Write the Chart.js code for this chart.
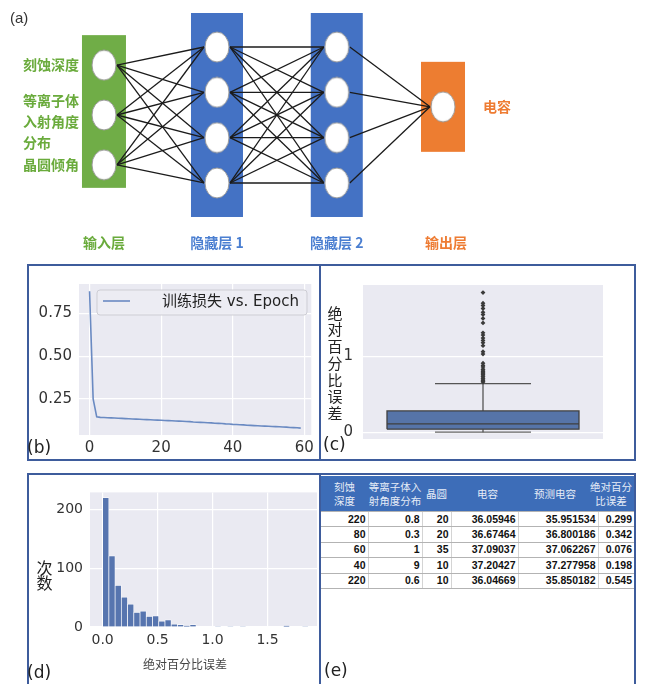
<!DOCTYPE html>
<html>
<head>
<meta charset="utf-8">
<script src="https://cdn.jsdelivr.net/npm/chart.js@4.4.0/dist/chart.umd.min.js"></script>
<style>
  body { margin: 0; background: #fff; }
  #page { position: relative; width: 654px; height: 684px; overflow: hidden; background: #fff; }
  .panel { position: absolute; box-sizing: border-box; border: 2px solid #3e5c9c; }
  canvas { position: absolute; display: block; }
  .tag { position: absolute; font: 17px "DejaVu Sans", sans-serif; line-height: 17px; color: #222; white-space: nowrap; }
  #resTable { position: absolute; left: 321px; top: 476px; width: 313px; border-collapse: collapse; table-layout: fixed; }
  #resTable th { background: #3d6db8; color: #e6ecf7; font: 10.5px/14px "Noto Sans CJK SC", sans-serif; height: 35px; padding: 0; text-align: center; white-space: pre; vertical-align: middle; }
  #resTable th span { display: inline-block; }
  #resTable tbody tr { height: 15.4px; }
  #resTable td { padding: 0 2px 0 0; text-align: right; font: bold 10.5px/13px "Liberation Sans", Arial, sans-serif; color: #111; border-top: 1px solid #b3b3b3; border-bottom: 1px solid #b3b3b3; border-left: 1px solid #d4d4d4; white-space: nowrap; }
  #resTable td:first-child { border-left: none; }
</style>
</head>
<body>
<div id="page">
  <canvas id="netChart" width="654" height="260" style="left:0;top:0"></canvas>
  <span class="tag" style="left:10px;top:10px;font:15px 'Liberation Sans',sans-serif;line-height:15px;color:#333">(a)</span>

  <div class="panel" style="left:27px;top:264px;width:294px;height:197px"></div>
  <div class="panel" style="left:319px;top:264px;width:317px;height:197px"></div>
  <div class="panel" style="left:27px;top:473px;width:294px;height:220px"></div>
  <div class="panel" style="left:319px;top:473px;width:317px;height:220px"></div>

  <canvas id="lossChart" width="289" height="192" style="left:29px;top:266px"></canvas>
  <canvas id="boxChart" width="312" height="192" style="left:322px;top:266px"></canvas>
  <canvas id="histChart" width="289" height="207" style="left:29px;top:477px"></canvas>
  <table id="resTable"><colgroup></colgroup><thead><tr></tr></thead><tbody></tbody></table>

  <span class="tag" style="left:27px;top:439px">(b)</span>
  <span class="tag" style="left:323px;top:436px">(c)</span>
  <span class="tag" style="left:27px;top:664px">(d)</span>
  <span class="tag" style="left:324px;top:662px">(e)</span>
</div>

<script>
// ---------------- data ----------------
// (a) network structure
const inputFeatures = ['刻蚀深度', '等离子体入射角度分布', '晶圆倾角'];
const outputTargets = ['电容'];
const layerNames = ['输入层', '隐藏层 1', '隐藏层 2', '输出层'];
const layerSizes = [3, 4, 4, 1];

// (b) training loss per epoch
const trainLoss = [
  0.880, 0.250, 0.145, 0.142, 0.141, 0.140, 0.139, 0.138, 0.137, 0.136,
  0.135, 0.134, 0.133, 0.132, 0.131, 0.130, 0.129, 0.128, 0.127, 0.126,
  0.125, 0.124, 0.123, 0.122, 0.121, 0.120, 0.119, 0.118, 0.117, 0.115,
  0.114, 0.113, 0.112, 0.111, 0.110, 0.108, 0.107, 0.106, 0.104, 0.103,
  0.101, 0.100, 0.099, 0.098, 0.096, 0.095, 0.094, 0.093, 0.092, 0.091,
  0.090, 0.089, 0.088, 0.087, 0.086, 0.085, 0.083, 0.082, 0.081, 0.079
];
const lossXTicks = [0, 20, 40, 60];
const lossYTicks = [0.25, 0.50, 0.75];

// (c) absolute percentage error box plot: [lower whisker, Q1, median, Q3, upper whisker]
const boxStats = [0.0, 0.04, 0.11, 0.28, 0.64];
const outliers = [0.66, 0.67, 0.68, 0.70, 0.71, 0.73, 0.74, 0.76, 0.77, 0.79, 0.80, 0.82,
                  0.83, 0.86, 0.88, 0.91, 1.03, 1.06, 1.14, 1.18, 1.21, 1.24, 1.28, 1.31,
                  1.44, 1.50, 1.55, 1.58, 1.63, 1.67, 1.70, 1.84];
const boxYTicks = [0, 1];

// (d) histogram of absolute percentage error
const binWidth = 0.0567;
const binCounts = [220, 121, 71, 51, 39, 25, 27, 18, 19, 10, 12, 5, 4, 2, 4, 0, 0, 0, 1,
                   0, 1, 0, 1, 0, 0, 0, 0, 0, 0, 2, 0, 0, 1];
const histXTicks = [0, 0.5, 1.0, 1.5];
const histYTicks = [0, 100, 200];

// (e) sample predictions
const columnHeaders = ['刻蚀\n深度', '等离子体入\n射角度分布', '晶圆', '电容', '预测电容', '绝对百分\n比误差'];
const etchDepth = [220, 80, 60, 40, 220];
const plasmaAngle = [0.8, 0.3, 1, 9, 0.6];
const waferTilt = [20, 20, 35, 10, 10];
const capacitance = [36.05946, 36.67464, 37.09037, 37.20427, 36.04669];
const predicted = [35.951534, 36.800186, 37.062267, 37.277958, 35.850182];
const absPctError = [0.299, 0.342, 0.076, 0.198, 0.545];

// ---------------- styles ----------------
const layerX = [0, 1, 2.06, 3];
const layerGap = [1.1, 1, 1, 1];
const layerShift = [0, 0, 0, 0.18];
const layerColor = ['#70ad47', '#4472c4', '#4472c4', '#ed7d31'];
const layerTextColor = ['#6aab3c', '#4b7fd1', '#4b7fd1', '#ee7c33'];
const boxHalfW = [22, 26, 26, 22];
const boxPadTop = [30, 34, 34, 45];
const boxPadBottom = [23, 34, 34, 45];
const nodeEdge = 0.115;
const colWidths = [47, 54, 29, 67, 80, 36];
const headerShift = [0, 0, 0, 3, -3, -5];
const GRID = { color: '#ffffff', lineWidth: 1.2, drawTicks: false };
const TICK_COLOR = '#333333';

Chart.defaults.font.family = '"DejaVu Sans", sans-serif';

// seaborn-like plot background
const plotBg = {
  id: 'plotBg',
  beforeDraw(chart, args, opts) {
    if (!opts.color) return;
    const { ctx, chartArea: a } = chart;
    ctx.save();
    ctx.fillStyle = opts.color;
    ctx.fillRect(a.left, a.top, a.width, a.height);
    ctx.restore();
  }
};
const setTicks = vals => s => { s.ticks = vals.map(v => ({ value: v })); };

// ---------------- (a) network diagram ----------------
const nodeImg = (() => {
  const c = document.createElement('canvas');
  c.width = 26; c.height = 32;
  const g = c.getContext('2d');
  g.beginPath();
  g.ellipse(13, 16, 12, 15, 0, 0, Math.PI * 2);
  g.fillStyle = '#ffffff';
  g.fill();
  g.lineWidth = 1;
  g.strokeStyle = '#9a9a9a';
  g.stroke();
  return c;
})();

function nodeY(l, i) {
  const n = layerSizes[l];
  return layerShift[l] + ((n - 1) / 2 - i) * layerGap[l];
}
const nodePoints = [];
layerSizes.forEach((n, l) => { for (let i = 0; i < n; i++) nodePoints.push({ x: layerX[l], y: nodeY(l, i) }); });

const netDatasets = [{ data: nodePoints, pointStyle: nodeImg, pointRadius: 12, showLine: false }];
for (let l = 0; l < layerSizes.length - 1; l++) {
  for (let i = 0; i < layerSizes[l]; i++) {
    for (let j = 0; j < layerSizes[l + 1]; j++) {
      netDatasets.push({
        data: [{ x: layerX[l] + nodeEdge, y: nodeY(l, i) }, { x: layerX[l + 1] - nodeEdge, y: nodeY(l + 1, j) }],
        showLine: true, borderColor: '#1b1b1b', borderWidth: 1.3, pointRadius: 0
      });
    }
  }
}

const layerBoxes = {
  id: 'layerBoxes',
  beforeDatasetsDraw(chart) {
    const { ctx, scales: { x, y } } = chart;
    ctx.save();
    layerSizes.forEach((n, l) => {
      const cx = x.getPixelForValue(layerX[l]);
      const top = y.getPixelForValue(nodeY(l, 0)) - boxPadTop[l];
      const bottom = y.getPixelForValue(nodeY(l, n - 1)) + boxPadBottom[l];
      ctx.fillStyle = layerColor[l];
      ctx.fillRect(cx - boxHalfW[l], top, 2 * boxHalfW[l], bottom - top);
    });
    ctx.restore();
  },
  afterDatasetsDraw(chart) {
    const { ctx, scales: { x, y } } = chart;
    ctx.save();
    ctx.font = 'bold 14px "Noto Sans CJK SC", sans-serif';
    ctx.textBaseline = 'middle';
    // input feature names
    const inLeft = x.getPixelForValue(layerX[0]) - boxHalfW[0] - 59;
    ctx.fillStyle = layerTextColor[0];
    ctx.textAlign = 'left';
    inputFeatures.forEach((name, i) => {
      const lines = name.match(/.{1,4}/g);
      const py = y.getPixelForValue(nodeY(0, i)) + (lines.length > 1 ? 7 : 0);
      lines.forEach((s, k) => ctx.fillText(s, inLeft, py + (k - (lines.length - 1) / 2) * 21));
    });
    // output name
    const lastL = layerSizes.length - 1;
    ctx.fillStyle = layerTextColor[lastL];
    outputTargets.forEach((name, i) => {
      ctx.fillText(name, x.getPixelForValue(layerX[lastL]) + boxHalfW[lastL] + 18, y.getPixelForValue(nodeY(lastL, i)));
    });
    // layer names
    ctx.textAlign = 'center';
    layerNames.forEach((name, l) => {
      ctx.fillStyle = layerTextColor[l];
      ctx.fillText(name, x.getPixelForValue(layerX[l]) + (l === lastL ? 3 : 0), 243);
    });
    ctx.restore();
  }
};

new Chart(document.getElementById('netChart'), {
  type: 'scatter',
  data: { datasets: netDatasets },
  options: {
    responsive: false, animation: false,
    layout: { padding: 0, autoPadding: false },
    scales: {
      x: { type: 'linear', display: false, min: -0.920, max: 4.867 },
      y: { type: 'linear', display: false, min: -3.199, max: 2.537 }
    },
    plugins: { legend: { display: false }, tooltip: { enabled: false } }
  },
  plugins: [layerBoxes]
});

// ---------------- (b) training loss ----------------
const lossLegend = {
  id: 'lossLegend',
  afterDatasetsDraw(chart) {
    const { ctx, chartArea: a } = chart;
    const ds = chart.data.datasets[0];
    const bx = a.left + 18, by = a.top + 6, bw = 210, bh = 25;
    ctx.save();
    ctx.beginPath();
    ctx.roundRect(bx, by, bw, bh, 3);
    ctx.fillStyle = 'rgba(236,236,243,0.9)';
    ctx.fill();
    ctx.strokeStyle = '#cdcdd4';
    ctx.lineWidth = 1;
    ctx.stroke();
    ctx.beginPath();
    ctx.moveTo(a.left + 24, a.top + 17);
    ctx.lineTo(a.left + 51, a.top + 17);
    ctx.strokeStyle = ds.borderColor;
    ctx.lineWidth = ds.borderWidth;
    ctx.stroke();
    ctx.font = '15px "DejaVu Sans", "Noto Sans CJK SC", sans-serif';
    ctx.fillStyle = '#222';
    ctx.textBaseline = 'middle';
    ctx.fillText(ds.label, a.left + 83, a.top + 18);
    ctx.restore();
  }
};

new Chart(document.getElementById('lossChart'), {
  type: 'line',
  data: {
    datasets: [{
      label: '训练损失 vs. Epoch',
      data: trainLoss.map((v, i) => ({ x: i, y: v })),
      borderColor: '#6a8ac2', borderWidth: 1.6, pointRadius: 0, tension: 0
    }]
  },
  options: {
    responsive: false, animation: false,
    layout: { padding: { top: 18, right: 5, left: 0, bottom: 0 }, autoPadding: false },
    scales: {
      x: {
        type: 'linear', min: -2.95, max: 61.95,
        afterBuildTicks: setTicks(lossXTicks), afterFit: s => { s.height = 23; },
        grid: GRID, border: { display: false },
        ticks: { padding: 4, color: TICK_COLOR, font: { size: 15 }, callback: v => String(v) }
      },
      y: {
        type: 'linear', min: 0.039, max: 0.922,
        afterBuildTicks: setTicks(lossYTicks), afterFit: s => { s.width = 50; },
        grid: GRID, border: { display: false },
        ticks: { padding: 7, color: TICK_COLOR, font: { size: 15 }, callback: v => v.toFixed(2) }
      }
    },
    plugins: { legend: { display: false }, tooltip: { enabled: false }, plotBg: { color: '#eaeaf2' } }
  },
  plugins: [plotBg, lossLegend]
});

// ---------------- (c) box plot ----------------
const [wLo, q1, med, q3, wHi] = boxStats;
const stackedTitle = (text, dx, dy, step, font, color) => ({
  id: 'stackedTitle',
  afterDraw(chart) {
    const { ctx, chartArea: a } = chart;
    ctx.save();
    ctx.font = font;
    ctx.fillStyle = color;
    ctx.textAlign = 'center';
    ctx.textBaseline = 'middle';
    [...text].forEach((ch, k) => ctx.fillText(ch, a.left + dx, a.top + dy + k * step));
    ctx.restore();
  }
});
const seg = pts => pts.map(([x, y]) => ({ x, y }));
const boxLine = { showLine: true, borderColor: '#3f3f3f', borderWidth: 1.3, pointRadius: 0, fill: false };

new Chart(document.getElementById('boxChart'), {
  type: 'scatter',
  data: {
    datasets: [
      { data: outliers.map(v => ({ x: 0, y: v })), pointStyle: 'rectRot', pointRadius: 2.4, backgroundColor: '#3a3a3a', borderWidth: 0 },
      { ...boxLine, data: seg([[-0.4, med], [0.4, med]]) },
      { ...boxLine, data: seg([[-0.4, q1], [0.4, q1], [0.4, q3], [-0.4, q3], [-0.4, q1]]) },
      { ...boxLine, borderColor: '#555', data: seg([[0, q3], [0, wHi]]) },
      { ...boxLine, borderColor: '#555', data: seg([[-0.2, wHi], [0.2, wHi]]) },
      { ...boxLine, borderColor: '#555', data: seg([[0, q1], [0, wLo]]) },
      { ...boxLine, borderColor: '#666', data: seg([[-0.2, wLo], [0.2, wLo]]) },
      { data: seg([[-0.4, q3], [0.4, q3]]), showLine: true, borderWidth: 0, pointRadius: 0, fill: { value: q1 }, backgroundColor: '#5674a8' }
    ]
  },
  options: {
    responsive: false, animation: false,
    layout: { padding: { top: 18, right: 31, left: 0, bottom: 19 }, autoPadding: false },
    scales: {
      x: { type: 'linear', display: false, min: -0.5, max: 0.5 },
      y: {
        type: 'linear', min: -0.09, max: 1.94,
        afterBuildTicks: setTicks(boxYTicks), afterFit: s => { s.width = 41; },
        grid: GRID, border: { display: false },
        ticks: { padding: 10, color: TICK_COLOR, font: { size: 15 }, callback: v => String(v) }
      }
    },
    plugins: { legend: { display: false }, tooltip: { enabled: false }, plotBg: { color: '#eaeaf2' } }
  },
  plugins: [plotBg, stackedTitle('绝对百分比误差', -28, 28, 16.7, '15px "Noto Sans CJK SC", sans-serif', '#222')]
});

// ---------------- (d) histogram ----------------
const histXTitle = {
  id: 'histXTitle',
  afterDraw(chart) {
    const { ctx, chartArea: a } = chart;
    ctx.save();
    ctx.font = '12px "Noto Sans CJK SC", sans-serif';
    ctx.fillStyle = '#444';
    ctx.textAlign = 'center';
    ctx.textBaseline = 'middle';
    ctx.fillText('绝对百分比误差', a.left + 95, a.bottom + 37);
    ctx.restore();
  }
};

new Chart(document.getElementById('histChart'), {
  type: 'bar',
  data: {
    datasets: [{
      data: binCounts.map((c, i) => ({ x: (i + 0.5) * binWidth, y: c })),
      backgroundColor: '#5775af', borderColor: 'rgba(255,255,255,0.85)', borderWidth: 0.7,
      barPercentage: 1, categoryPercentage: 1
    }]
  },
  options: {
    responsive: false, animation: false,
    layout: { padding: { top: 5, right: 1, left: 0, bottom: 0 }, autoPadding: false },
    scales: {
      x: {
        type: 'linear', offset: false, min: -0.115, max: 1.95,
        afterBuildTicks: setTicks(histXTicks), afterFit: s => { s.height = 57; },
        grid: { ...GRID, offset: false }, border: { display: false },
        ticks: { padding: 5, color: TICK_COLOR, font: { size: 14 }, callback: v => v.toFixed(1) }
      },
      y: {
        type: 'linear', min: 0, max: 229,
        afterBuildTicks: setTicks(histYTicks), afterFit: s => { s.width = 61; },
        grid: GRID, border: { display: false },
        ticks: { padding: 7, color: TICK_COLOR, font: { size: 14 }, callback: v => String(v) }
      }
    },
    plugins: { legend: { display: false }, tooltip: { enabled: false }, plotBg: { color: '#eaeaf2' } }
  },
  plugins: [plotBg, histXTitle, stackedTitle('次数', -45.5, 76, 15, '16px "Noto Sans CJK SC", sans-serif', '#222')]
});

// ---------------- (e) results table ----------------
const table = document.getElementById('resTable');
const colgroup = table.querySelector('colgroup');
colWidths.forEach(w => { const c = document.createElement('col'); c.style.width = w + 'px'; colgroup.appendChild(c); });
const headRow = table.querySelector('thead tr');
columnHeaders.forEach((h, k) => {
  const th = document.createElement('th');
  const span = document.createElement('span');
  span.textContent = h;
  span.style.transform = `translateX(${headerShift[k]}px)`;
  span.style.margin = '0 -8px';
  th.appendChild(span);
  headRow.appendChild(th);
});
const tbody = table.querySelector('tbody');
const columns = [etchDepth, plasmaAngle, waferTilt, capacitance, predicted, absPctError];
etchDepth.forEach((_, r) => {
  const tr = document.createElement('tr');
  columns.forEach(col => {
    const td = document.createElement('td');
    td.textContent = String(col[r]);
    tr.appendChild(td);
  });
  tbody.appendChild(tr);
});
</script>
</body>
</html>
